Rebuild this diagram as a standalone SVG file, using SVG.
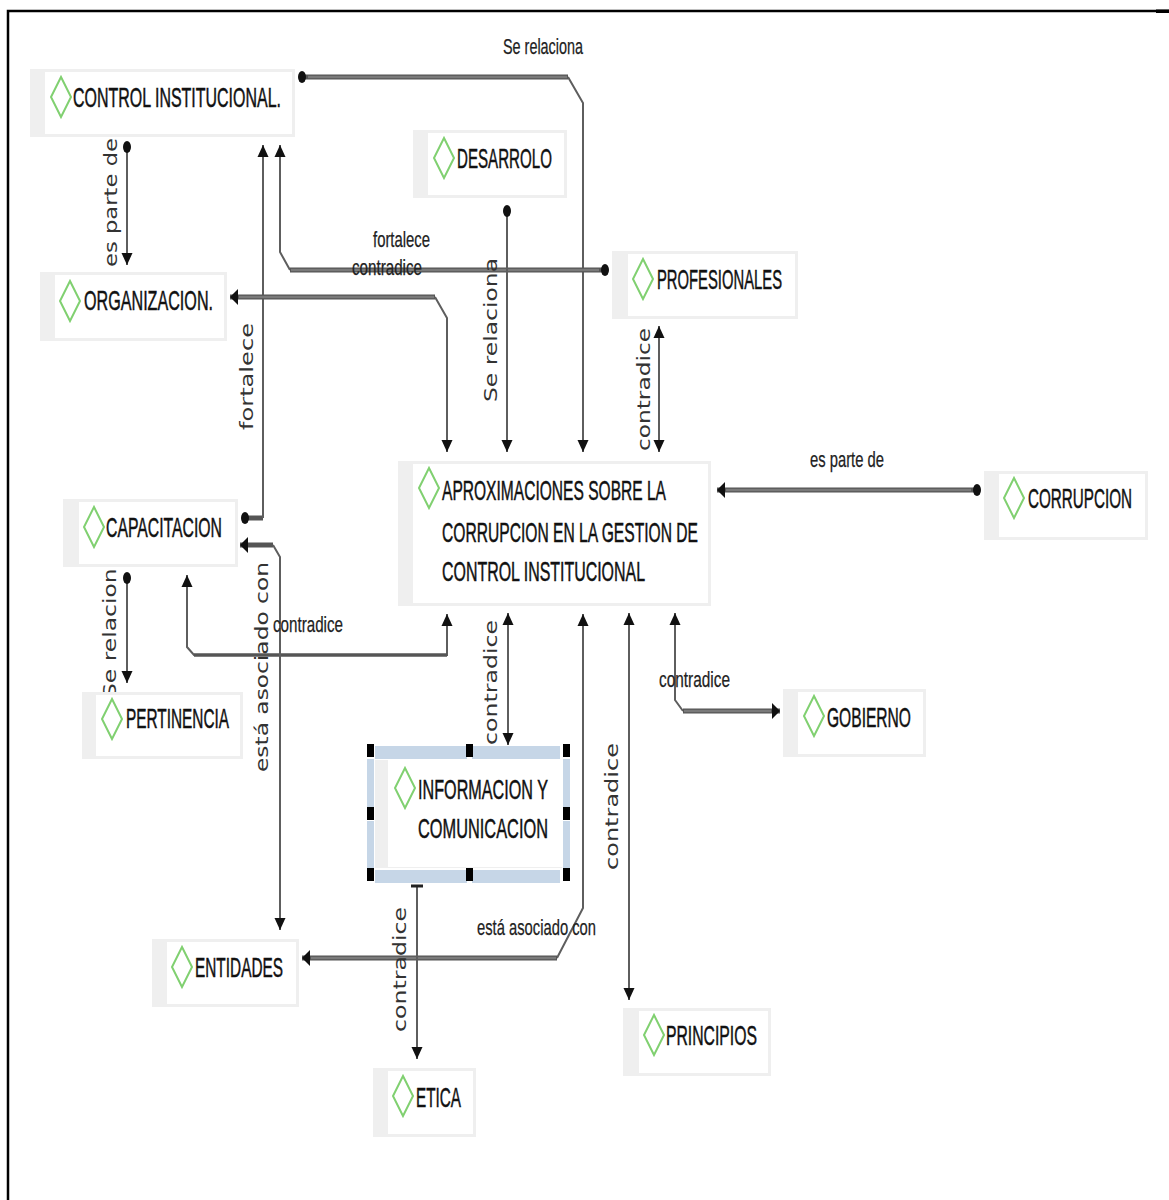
<svg xmlns="http://www.w3.org/2000/svg" width="1169" height="1200" viewBox="0 0 1169 1200">
<defs>
<style>
.nb{fill:#efefef}
.ni{fill:#ffffff}
.dm{fill:none;stroke:#80d070;stroke-width:2}
.nt{font-family:"Liberation Sans",Arial,sans-serif;font-size:28px;fill:#111;stroke:#111;stroke-width:0.5}
.ln{fill:none;stroke:#5e5e5e;stroke-width:2}
.tk{fill:none;stroke:#555555;stroke-width:5}
.tki{fill:none;stroke:#7a7a7a;stroke-width:2.5}
.lb{font-family:"Liberation Sans",Arial,sans-serif;font-size:22px;fill:#222;stroke:#222;stroke-width:0.25}
.lr{font-family:"DejaVu Sans",Verdana,sans-serif;font-size:17px;fill:#333}
.sel{fill:#c6d6e7}
.hd{fill:#000}
</style>
<marker id="ar" viewBox="0 0 12 12" refX="12" refY="6" markerWidth="12" markerHeight="12" markerUnits="userSpaceOnUse" orient="auto-start-reverse"><path d="M0,0.5 L12,6 L0,11.5 Z" fill="#111"/></marker>
<marker id="ah" viewBox="0 0 8 16" refX="8" refY="8" markerWidth="8" markerHeight="16" markerUnits="userSpaceOnUse" orient="auto-start-reverse"><path d="M0,0 L8,8 L0,16 Z" fill="#111"/></marker>
<marker id="dt" viewBox="-5 -7 10 14" refX="0" refY="0" markerWidth="10" markerHeight="14" markerUnits="userSpaceOnUse" orient="0"><ellipse cx="0" cy="0" rx="4" ry="6" fill="#111"/></marker>
<marker id="br" viewBox="-2 -7 4 14" refX="0" refY="0" markerWidth="4" markerHeight="14" markerUnits="userSpaceOnUse" orient="auto"><rect x="-1.5" y="-6" width="3" height="12" fill="#222"/></marker>
</defs>
<rect x="0" y="0" width="1169" height="1200" fill="#fff"/>
<path d="M8,1200 V11 H1169" fill="none" stroke="#000" stroke-width="2.5"/>
<rect x="1156" y="9.5" width="13" height="3.5" fill="#000"/>

<g id="connectors">
  <path class="tk" d="M302,77 H568" marker-start="url(#dt)"/>
  <path class="tki" d="M308,77 H567"/>
  <path class="ln" d="M568,77 L583,103 V452" marker-end="url(#ar)"/>
  <path class="ln" d="M127,147 V265" marker-start="url(#dt)" marker-end="url(#ar)"/>
  <path class="tk" d="M245,518 H263" marker-start="url(#dt)"/>
  <path class="ln" d="M263,518 V145" marker-end="url(#ar)"/>
  <path class="tk" d="M605,270 H290" marker-start="url(#dt)"/>
  <path class="tki" d="M599,270 H291"/>
  <path class="ln" d="M290,270 L280,252 V145" marker-end="url(#ar)"/>
  <path class="tk" d="M435,297 H230" marker-end="url(#ah)"/>
  <path class="tki" d="M434,297 H239"/>
  <path class="ln" d="M435,297 L447,318 V452" marker-end="url(#ar)"/>
  <path class="ln" d="M507,211 V452" marker-start="url(#dt)" marker-end="url(#ar)"/>
  <path class="ln" d="M659,326 V452" marker-start="url(#ar)" marker-end="url(#ar)"/>
  <path class="tk" d="M977,490 H717" marker-start="url(#dt)" marker-end="url(#ah)"/>
  <path class="tki" d="M971,490 H726"/>
  <path class="ln" d="M187,575 V647 L194,655 H447 V614" marker-start="url(#ar)" marker-end="url(#ar)"/>
  <path class="ln" d="M194,655 H447" style="stroke-width:3.5;stroke:#555"/>
  <path class="ln" d="M127,578 V683" marker-start="url(#dt)" marker-end="url(#ar)"/>
  <path class="tk" d="M273,545 H240" marker-end="url(#ah)"/>
  <path class="ln" d="M273,545 L280,557 V930" marker-end="url(#ar)"/>
  <path class="ln" d="M583,614 V908 L557,958" marker-start="url(#ar)"/>
  <path class="tk" d="M557,958 H302" marker-end="url(#ah)"/>
  <path class="tki" d="M556,958 H311"/>
  <path class="ln" d="M508,613 V745" marker-start="url(#ar)" marker-end="url(#ar)"/>
  <path class="ln" d="M417,886 V1059" marker-start="url(#br)" marker-end="url(#ar)"/>
  <path class="ln" d="M629,613 V1000" marker-start="url(#ar)" marker-end="url(#ar)"/>
  <path class="ln" d="M675,613 V700 L683,711" marker-start="url(#ar)"/>
  <path class="tk" d="M683,711 H780" marker-end="url(#ah)"/>
  <path class="tki" d="M684,711 H771"/>

  <g id="connector-labels">
    <text class="lb" x="503" y="54" textLength="80" lengthAdjust="spacingAndGlyphs">Se relaciona</text>
    <text class="lb" x="373" y="247" textLength="57" lengthAdjust="spacingAndGlyphs">fortalece</text>
    <text class="lb" x="352" y="275" textLength="70" lengthAdjust="spacingAndGlyphs">contradice</text>
    <text class="lb" x="810" y="467" textLength="74" lengthAdjust="spacingAndGlyphs">es parte de</text>
    <text class="lb" x="273" y="632" textLength="70" lengthAdjust="spacingAndGlyphs">contradice</text>
    <text class="lb" x="477" y="935" textLength="119" lengthAdjust="spacingAndGlyphs">está asociado con</text>
    <text class="lb" x="659" y="687" textLength="71" lengthAdjust="spacingAndGlyphs">contradice</text>

    <text class="lr" transform="translate(117,267) rotate(-90)" textLength="129" lengthAdjust="spacingAndGlyphs">es parte de</text>
    <text class="lr" transform="translate(253,430) rotate(-90)" textLength="107" lengthAdjust="spacingAndGlyphs">fortalece</text>
    <text class="lr" transform="translate(497,402) rotate(-90)" textLength="144" lengthAdjust="spacingAndGlyphs">Se relaciona</text>
    <text class="lr" transform="translate(650,451) rotate(-90)" textLength="123" lengthAdjust="spacingAndGlyphs">contradice</text>
    <text class="lr" transform="translate(116,698) rotate(-90)" textLength="144" lengthAdjust="spacingAndGlyphs">Se relaciona</text>
    <text class="lr" transform="translate(268,772) rotate(-90)" textLength="210" lengthAdjust="spacingAndGlyphs">está asociado con</text>
    <text class="lr" transform="translate(497,745) rotate(-90)" textLength="125" lengthAdjust="spacingAndGlyphs">contradice</text>
    <text class="lr" transform="translate(406,1032) rotate(-90)" textLength="125" lengthAdjust="spacingAndGlyphs">contradice</text>
    <text class="lr" transform="translate(618,870) rotate(-90)" textLength="127" lengthAdjust="spacingAndGlyphs">contradice</text>
  </g>
</g>

<g id="n-control">
  <rect class="nb" x="30" y="69" width="265" height="68"/>
  <rect class="ni" x="45" y="72" width="247" height="62"/>
  <path class="dm" d="M61,77 L71,97 L61,117 L51,97 Z"/>
  <text class="nt" x="73" y="107" textLength="208" lengthAdjust="spacingAndGlyphs">CONTROL INSTITUCIONAL.</text>
</g>
<g id="n-desarrolo">
  <rect class="nb" x="413" y="130" width="154" height="68"/>
  <rect class="ni" x="428" y="133" width="136" height="62"/>
  <path class="dm" d="M444,138 L454,158 L444,178 L434,158 Z"/>
  <text class="nt" x="457" y="168" textLength="95" lengthAdjust="spacingAndGlyphs">DESARROLO</text>
</g>
<g id="n-organizacion">
  <rect class="nb" x="40" y="272" width="187" height="69"/>
  <rect class="ni" x="55" y="275" width="169" height="63"/>
  <path class="dm" d="M70,281 L80,301 L70,321 L60,301 Z"/>
  <text class="nt" x="84" y="310" textLength="129" lengthAdjust="spacingAndGlyphs">ORGANIZACION.</text>
</g>
<g id="n-profesionales">
  <rect class="nb" x="612" y="251" width="186" height="68"/>
  <rect class="ni" x="628" y="254" width="167" height="62"/>
  <path class="dm" d="M643,259 L653,279 L643,299 L633,279 Z"/>
  <text class="nt" x="657" y="289" textLength="125" lengthAdjust="spacingAndGlyphs">PROFESIONALES</text>
</g>
<g id="n-aproximaciones">
  <rect class="nb" x="398" y="461" width="313" height="145"/>
  <rect class="ni" x="413" y="464" width="295" height="139"/>
  <path class="dm" d="M429,468 L439,488 L429,508 L419,488 Z"/>
  <text class="nt" x="442" y="500" textLength="224" lengthAdjust="spacingAndGlyphs">APROXIMACIONES SOBRE LA</text>
  <text class="nt" x="442" y="542" textLength="256" lengthAdjust="spacingAndGlyphs">CORRUPCION EN LA GESTION DE</text>
  <text class="nt" x="442" y="581" textLength="203" lengthAdjust="spacingAndGlyphs">CONTROL INSTITUCIONAL</text>
</g>
<g id="n-corrupcion">
  <rect class="nb" x="984" y="471" width="164" height="69"/>
  <rect class="ni" x="999" y="474" width="146" height="63"/>
  <path class="dm" d="M1014,478 L1024,498 L1014,518 L1004,498 Z"/>
  <text class="nt" x="1028" y="508" textLength="104" lengthAdjust="spacingAndGlyphs">CORRUPCION</text>
</g>
<g id="n-capacitacion">
  <rect class="nb" x="63" y="499" width="175" height="68"/>
  <rect class="ni" x="79" y="502" width="156" height="62"/>
  <path class="dm" d="M94,507 L104,527 L94,547 L84,527 Z"/>
  <text class="nt" x="106" y="537" textLength="116" lengthAdjust="spacingAndGlyphs">CAPACITACION</text>
</g>
<g id="n-pertinencia">
  <rect class="nb" x="82" y="692" width="161" height="67"/>
  <rect class="ni" x="96" y="695" width="144" height="61"/>
  <path class="dm" d="M112,699 L122,719 L112,739 L102,719 Z"/>
  <text class="nt" x="126" y="728" textLength="103" lengthAdjust="spacingAndGlyphs">PERTINENCIA</text>
</g>
<g id="n-informacion">
  <rect class="nb" x="375" y="760" width="187" height="108"/>
  <rect class="ni" x="388" y="760" width="174" height="107"/>
  <path class="dm" d="M405,768 L415,788 L405,808 L395,788 Z"/>
  <text class="nt" x="418" y="799" textLength="130" lengthAdjust="spacingAndGlyphs">INFORMACION Y</text>
  <text class="nt" x="418" y="838" textLength="130" lengthAdjust="spacingAndGlyphs">COMUNICACION</text>
  <g id="selection">
    <rect class="sel" x="375" y="746" width="92" height="13"/>
    <rect class="sel" x="472" y="746" width="88" height="13"/>
    <rect class="sel" x="375" y="870" width="92" height="13"/>
    <rect class="sel" x="472" y="870" width="88" height="13"/>
    <rect class="sel" x="367" y="759" width="7" height="48"/>
    <rect class="sel" x="367" y="821" width="7" height="47"/>
    <rect class="sel" x="563" y="759" width="7" height="48"/>
    <rect class="sel" x="563" y="821" width="7" height="47"/>
    <rect class="hd" x="367" y="744" width="7" height="13"/>
    <rect class="hd" x="466" y="744" width="7" height="13"/>
    <rect class="hd" x="563" y="744" width="7" height="13"/>
    <rect class="hd" x="367" y="807" width="7" height="13"/>
    <rect class="hd" x="563" y="807" width="7" height="13"/>
    <rect class="hd" x="367" y="868" width="7" height="13"/>
    <rect class="hd" x="466" y="868" width="7" height="13"/>
    <rect class="hd" x="563" y="868" width="7" height="13"/>
  </g>
</g>
<g id="n-gobierno">
  <rect class="nb" x="783" y="689" width="143" height="68"/>
  <rect class="ni" x="798" y="692" width="125" height="62"/>
  <path class="dm" d="M814,696 L824,716 L814,736 L804,716 Z"/>
  <text class="nt" x="827" y="727" textLength="84" lengthAdjust="spacingAndGlyphs">GOBIERNO</text>
</g>
<g id="n-entidades">
  <rect class="nb" x="152" y="939" width="147" height="68"/>
  <rect class="ni" x="167" y="942" width="129" height="62"/>
  <path class="dm" d="M182,947 L192,967 L182,987 L172,967 Z"/>
  <text class="nt" x="195" y="977" textLength="88" lengthAdjust="spacingAndGlyphs">ENTIDADES</text>
</g>
<g id="n-etica">
  <rect class="nb" x="373" y="1068" width="103" height="69"/>
  <rect class="ni" x="388" y="1071" width="85" height="63"/>
  <path class="dm" d="M403,1076 L413,1096 L403,1116 L393,1096 Z"/>
  <text class="nt" x="416" y="1107" textLength="45" lengthAdjust="spacingAndGlyphs">ETICA</text>
</g>
<g id="n-principios">
  <rect class="nb" x="623" y="1008" width="148" height="68"/>
  <rect class="ni" x="639" y="1011" width="129" height="62"/>
  <path class="dm" d="M654,1015 L664,1035 L654,1055 L644,1035 Z"/>
  <text class="nt" x="666" y="1045" textLength="91" lengthAdjust="spacingAndGlyphs">PRINCIPIOS</text>
</g>
</svg>
